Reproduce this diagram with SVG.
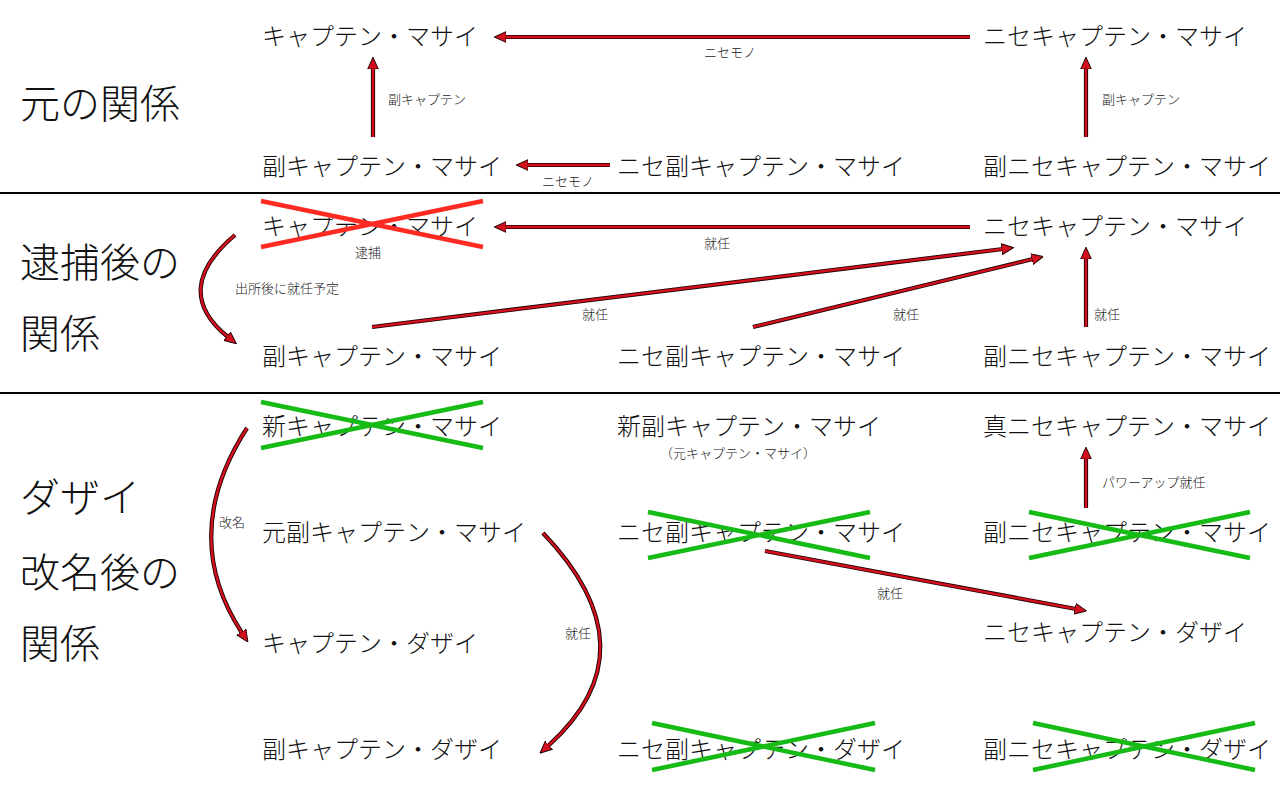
<svg xmlns="http://www.w3.org/2000/svg" width="1280" height="800" viewBox="0 0 1280 800">
<style>
.n{font-family:"Noto Sans CJK JP","Noto Sans",sans-serif;font-size:24px;font-weight:300;fill:#111}
.h{font-family:"Noto Sans CJK JP","Noto Sans",sans-serif;font-size:40px;font-weight:300;fill:#111}
.l{font-family:"Noto Sans CJK JP","Noto Sans",sans-serif;font-size:13px;font-weight:300;fill:#222}
.m{text-anchor:middle}
.o{fill:none;stroke:#1a0000;stroke-width:4.2}
.i{fill:none;stroke:#d4101e;stroke-width:2.4;marker-end:url(#ah)}
.xr{stroke:#ff2a22;stroke-width:4.5}
.xg{stroke:#16bb16;stroke-width:4.5}
.div{stroke:#000;stroke-width:2}
</style>
<defs>
<marker id="ah" viewBox="0 0 10 10" markerWidth="12" markerHeight="12" markerUnits="userSpaceOnUse" refX="1" refY="5" orient="auto">
<path d="M0,0.5 L10,5 L0,9.5 z" fill="#d4101e" stroke="#1a0000" stroke-width="0.8"/>
</marker>
</defs>
<rect width="1280" height="800" fill="#fff"/>
<line class="div" x1="0" y1="193" x2="1280" y2="193"/>
<line class="div" x1="0" y1="393" x2="1280" y2="393"/>
<g id="headings">
<text class="h" x="20" y="118">元の関係</text>
<text class="h" x="20" y="277">逮捕後の</text>
<text class="h" x="20" y="348">関係</text>
<text class="h" x="20" y="512">ダザイ</text>
<text class="h" x="20" y="587">改名後の</text>
<text class="h" x="20" y="658">関係</text>
</g>
<g id="connectors">
<path class="o" d="M970,37 L505,37"/><path class="i" d="M970,37 L505,37"/>
<path class="o" d="M373,137 L373,68"/><path class="i" d="M373,137 L373,68"/>
<path class="o" d="M610,165 L527,165"/><path class="i" d="M610,165 L527,165"/>
<path class="o" d="M1086,137 L1086,68"/><path class="i" d="M1086,137 L1086,68"/>
<path class="o" d="M970,227 L505,227"/><path class="i" d="M970,227 L505,227"/>
<path class="o" d="M235,235 Q170,290 228,337"/><path class="i" d="M235,235 Q170,290 228,337"/>
<path class="o" d="M372,327 L1003,249"/><path class="i" d="M372,327 L1003,249"/>
<path class="o" d="M753,327 L1033,259"/><path class="i" d="M753,327 L1033,259"/>
<path class="o" d="M1086,327 L1086,258"/><path class="i" d="M1086,327 L1086,258"/>
<path class="o" d="M247,428 Q178,535 242,633"/><path class="i" d="M247,428 Q178,535 242,633"/>
<path class="o" d="M543,533 Q655,650 548,746"/><path class="i" d="M543,533 Q655,650 548,746"/>
<path class="o" d="M765,551 L1076,609"/><path class="i" d="M765,551 L1076,609"/>
<path class="o" d="M1086,508 L1086,458"/><path class="i" d="M1086,508 L1086,458"/>
</g>
<g id="edge-labels">
<text class="l m" x="730" y="57">ニセモノ</text>
<text class="l" x="388" y="104">副キャプテン</text>
<text class="l m" x="568" y="186">ニセモノ</text>
<text class="l" x="1102" y="104">副キャプテン</text>
<text class="l m" x="717" y="248">就任</text>
<text class="l" x="235" y="293">出所後に就任予定</text>
<text class="l m" x="595" y="319">就任</text>
<text class="l m" x="906" y="319">就任</text>
<text class="l" x="1094" y="319">就任</text>
<text class="l m" x="232" y="527">改名</text>
<text class="l m" x="578" y="638">就任</text>
<text class="l m" x="890" y="598">就任</text>
<text class="l" x="1102" y="487">パワーアップ就任</text>
</g>
<g id="n-captain-masai"><text class="n" x="262" y="45">キャプテン・マサイ</text></g>
<g id="n-nise-captain-masai"><text class="n" x="983" y="45">ニセキャプテン・マサイ</text></g>
<g id="n-vice-captain-masai"><text class="n" x="262" y="175">副キャプテン・マサイ</text></g>
<g id="n-nise-vice-captain-masai"><text class="n" x="617" y="175">ニセ副キャプテン・マサイ</text></g>
<g id="n-vice-nise-captain-masai"><text class="n" x="983" y="175">副ニセキャプテン・マサイ</text></g>
<g id="n2-captain-masai"><text class="n" x="262" y="235">キャプテン・マサイ</text>
<line class="xr" x1="261" y1="201" x2="483" y2="247"/><line class="xr" x1="261" y1="247" x2="483" y2="201"/>
<text class="l m" x="368" y="257">逮捕</text></g>
<g id="n2-nise-captain-masai"><text class="n" x="983" y="235">ニセキャプテン・マサイ</text></g>
<g id="n2-vice-captain-masai"><text class="n" x="262" y="365">副キャプテン・マサイ</text></g>
<g id="n2-nise-vice-captain-masai"><text class="n" x="617" y="365">ニセ副キャプテン・マサイ</text></g>
<g id="n2-vice-nise-captain-masai"><text class="n" x="983" y="365">副ニセキャプテン・マサイ</text></g>
<g id="n3-new-captain-masai"><text class="n" x="262" y="435">新キャプテン・マサイ</text>
<line class="xg" x1="261" y1="402" x2="483" y2="448"/><line class="xg" x1="261" y1="448" x2="483" y2="402"/></g>
<g id="n3-former-vice-captain-masai"><text class="n" x="262" y="541">元副キャプテン・マサイ</text></g>
<g id="n3-captain-dazai"><text class="n" x="262" y="652">キャプテン・ダザイ</text></g>
<g id="n3-vice-captain-dazai"><text class="n" x="262" y="758">副キャプテン・ダザイ</text></g>
<g id="n3-new-vice-captain-masai"><text class="n" x="617" y="435">新副キャプテン・マサイ</text>
<text class="l m" x="738" y="458">（元キャプテン・マサイ）</text></g>
<g id="n3-nise-vice-captain-masai"><text class="n" x="617" y="541">ニセ副キャプテン・マサイ</text>
<line class="xg" x1="648" y1="512" x2="870" y2="558"/><line class="xg" x1="648" y1="558" x2="870" y2="512"/></g>
<g id="n3-true-nise-captain-masai"><text class="n" x="983" y="435">真ニセキャプテン・マサイ</text></g>
<g id="n3-vice-nise-captain-masai"><text class="n" x="983" y="541">副ニセキャプテン・マサイ</text>
<line class="xg" x1="1029" y1="512" x2="1250" y2="558"/><line class="xg" x1="1029" y1="558" x2="1250" y2="512"/></g>
<g id="n3-nise-captain-dazai"><text class="n" x="983" y="641">ニセキャプテン・ダザイ</text></g>
<g id="n3-nise-vice-captain-dazai"><text class="n" x="617" y="758">ニセ副キャプテン・ダザイ</text>
<line class="xg" x1="652" y1="723" x2="875" y2="770"/><line class="xg" x1="652" y1="770" x2="875" y2="723"/></g>
<g id="n3-vice-nise-captain-dazai"><text class="n" x="983" y="758">副ニセキャプテン・ダザイ</text>
<line class="xg" x1="1033" y1="723" x2="1255" y2="770"/><line class="xg" x1="1033" y1="770" x2="1255" y2="723"/></g>
</svg>
